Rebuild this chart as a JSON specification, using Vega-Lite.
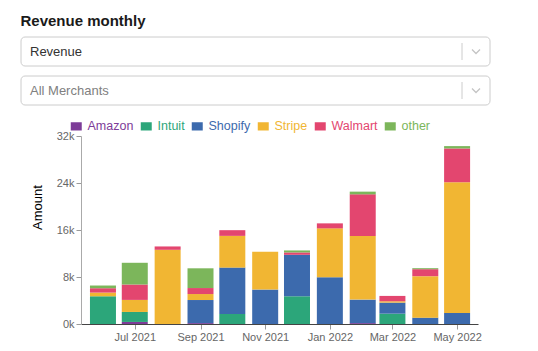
{
  "$schema": "https://vega.github.io/schema/vega-lite/v6.json",
  "padding": {"left": 20, "top": 13, "right": 5, "bottom": 5},
  "autosize": {"type": "pad"},
  "config": {
    "font": "Liberation Sans",
    "view": {"stroke": null},
    "axis": {"labelFont": "Liberation Sans", "titleFont": "Liberation Sans"}
  },
  "title": {"text": "Revenue monthly", "anchor": "start", "fontSize": 15, "fontWeight": "bold", "color": "#1a1a1a", "offset": 8, "frame": "bounds"},
  "resolve": {"scale": {"color": "independent"}, "legend": {"color": "independent"}},
  "spacing": 14,
  "vconcat": [
    {
      "spacing": 8,
      "vconcat": [
        {
          "width": 409, "height": 29,
          "data": {"values": [{"label": "Revenue"}]},
          "layer": [
            {"mark": {"type": "rect", "fill": "#ffffff", "stroke": "#cccccc", "strokeWidth": 1, "cornerRadius": 4},
             "encoding": {"x": {"datum": 0, "type": "quantitative", "scale": {"domain": [60, 469], "nice": false, "zero": false}, "axis": null},
                          "x2": {"datum": 469},
                          "y": {"datum": 0, "type": "quantitative", "scale": {"domain": [0, 29], "nice": false, "zero": false}, "axis": null},
                          "y2": {"datum": 29}}},
            {"mark": {"type": "text", "align": "left", "baseline": "middle", "fontSize": 13, "color": "#333333"},
             "encoding": {"text": {"field": "label"},
                          "x": {"datum": 9, "type": "quantitative", "scale": {"domain": [60, 469], "nice": false, "zero": false}, "axis": null}}},
            {"mark": {"type": "rule", "color": "#cccccc"},
             "encoding": {"x": {"datum": 441, "type": "quantitative", "scale": {"domain": [60, 469], "nice": false, "zero": false}, "axis": null},
                          "y": {"datum": 6, "type": "quantitative", "scale": {"domain": [0, 29], "nice": false, "zero": false}, "axis": null},
                          "y2": {"datum": 23}}},
            {"mark": {"type": "point", "shape": "M-1,-0.5L0,0.5L1,-0.5", "filled": false, "stroke": "#c4c4c4", "strokeWidth": 1.3, "size": 64, "opacity": 1},
             "encoding": {"x": {"datum": 455, "type": "quantitative", "scale": {"domain": [60, 469], "nice": false, "zero": false}, "axis": null}}}
          ]
        },
        {
          "width": 409, "height": 29,
          "data": {"values": [{"label": "All Merchants"}]},
          "layer": [
            {"mark": {"type": "rect", "fill": "#ffffff", "stroke": "#cccccc", "strokeWidth": 1, "cornerRadius": 4},
             "encoding": {"x": {"datum": 0, "type": "quantitative", "scale": {"domain": [60, 469], "nice": false, "zero": false}, "axis": null},
                          "x2": {"datum": 469},
                          "y": {"datum": 0, "type": "quantitative", "scale": {"domain": [0, 29], "nice": false, "zero": false}, "axis": null},
                          "y2": {"datum": 29}}},
            {"mark": {"type": "text", "align": "left", "baseline": "middle", "fontSize": 13, "color": "#808080"},
             "encoding": {"text": {"field": "label"},
                          "x": {"datum": 9, "type": "quantitative", "scale": {"domain": [60, 469], "nice": false, "zero": false}, "axis": null}}},
            {"mark": {"type": "rule", "color": "#cccccc"},
             "encoding": {"x": {"datum": 441, "type": "quantitative", "scale": {"domain": [60, 469], "nice": false, "zero": false}, "axis": null},
                          "y": {"datum": 6, "type": "quantitative", "scale": {"domain": [0, 29], "nice": false, "zero": false}, "axis": null},
                          "y2": {"datum": 23}}},
            {"mark": {"type": "point", "shape": "M-1,-0.5L0,0.5L1,-0.5", "filled": false, "stroke": "#c4c4c4", "strokeWidth": 1.3, "size": 64, "opacity": 1},
             "encoding": {"x": {"datum": 455, "type": "quantitative", "scale": {"domain": [60, 469], "nice": false, "zero": false}, "axis": null}}}
          ]
        }
      ]
    },
    {
      "width": 397, "height": 188,
      "data": {"values": [
        {"month": "2021-06-01", "merchant": "Intuit", "amount": 4720},
        {"month": "2021-06-01", "merchant": "Stripe", "amount": 630},
        {"month": "2021-06-01", "merchant": "Walmart", "amount": 740},
        {"month": "2021-06-01", "merchant": "other", "amount": 460},
        {"month": "2021-07-01", "merchant": "Amazon", "amount": 350},
        {"month": "2021-07-01", "merchant": "Intuit", "amount": 1700},
        {"month": "2021-07-01", "merchant": "Stripe", "amount": 2050},
        {"month": "2021-07-01", "merchant": "Walmart", "amount": 2620},
        {"month": "2021-07-01", "merchant": "other", "amount": 3700},
        {"month": "2021-08-01", "merchant": "Stripe", "amount": 12630},
        {"month": "2021-08-01", "merchant": "Walmart", "amount": 570},
        {"month": "2021-09-01", "merchant": "Amazon", "amount": 150},
        {"month": "2021-09-01", "merchant": "Shopify", "amount": 3930},
        {"month": "2021-09-01", "merchant": "Stripe", "amount": 1020},
        {"month": "2021-09-01", "merchant": "Walmart", "amount": 1020},
        {"month": "2021-09-01", "merchant": "other", "amount": 3360},
        {"month": "2021-10-01", "merchant": "Intuit", "amount": 1700},
        {"month": "2021-10-01", "merchant": "Shopify", "amount": 7900},
        {"month": "2021-10-01", "merchant": "Stripe", "amount": 5400},
        {"month": "2021-10-01", "merchant": "Walmart", "amount": 970},
        {"month": "2021-11-01", "merchant": "Shopify", "amount": 5860},
        {"month": "2021-11-01", "merchant": "Stripe", "amount": 6430},
        {"month": "2021-12-01", "merchant": "Intuit", "amount": 4720},
        {"month": "2021-12-01", "merchant": "Shopify", "amount": 7060},
        {"month": "2021-12-01", "merchant": "Walmart", "amount": 400},
        {"month": "2021-12-01", "merchant": "other", "amount": 340},
        {"month": "2022-01-01", "merchant": "Shopify", "amount": 7970},
        {"month": "2022-01-01", "merchant": "Stripe", "amount": 8310},
        {"month": "2022-01-01", "merchant": "Walmart", "amount": 850},
        {"month": "2022-02-01", "merchant": "Amazon", "amount": 150},
        {"month": "2022-02-01", "merchant": "Shopify", "amount": 4000},
        {"month": "2022-02-01", "merchant": "Stripe", "amount": 10810},
        {"month": "2022-02-01", "merchant": "Walmart", "amount": 7110},
        {"month": "2022-02-01", "merchant": "other", "amount": 460},
        {"month": "2022-03-01", "merchant": "Intuit", "amount": 1760},
        {"month": "2022-03-01", "merchant": "Shopify", "amount": 1880},
        {"month": "2022-03-01", "merchant": "Stripe", "amount": 230},
        {"month": "2022-03-01", "merchant": "Walmart", "amount": 910},
        {"month": "2022-04-01", "merchant": "Shopify", "amount": 1080},
        {"month": "2022-04-01", "merchant": "Stripe", "amount": 7060},
        {"month": "2022-04-01", "merchant": "Walmart", "amount": 1190},
        {"month": "2022-04-01", "merchant": "other", "amount": 170},
        {"month": "2022-05-01", "merchant": "Shopify", "amount": 1880},
        {"month": "2022-05-01", "merchant": "Stripe", "amount": 22250},
        {"month": "2022-05-01", "merchant": "Walmart", "amount": 5750},
        {"month": "2022-05-01", "merchant": "other", "amount": 400}
      ]},
      "mark": {"type": "bar", "width": 26},
      "encoding": {
        "x": {"field": "month", "type": "temporal",
              "scale": {"domain": [{"year": 2021, "month": 5, "date": 16}, {"year": 2022, "month": 5, "date": 16}], "nice": false},
              "axis": {"title": null, "format": "%b %Y", "tickCount": {"interval": "month", "step": 2}, "grid": false,
                       "labelFontSize": 11, "labelColor": "#666666", "domainColor": "#444444", "tickColor": "#999999",
                       "labelPadding": 2, "tickSize": 5, "labelFlush": false, "labelOverlap": false}},
        "y": {"field": "amount", "type": "quantitative", "stack": "zero",
              "scale": {"domain": [0, 32000], "nice": false},
              "axis": {"title": "Amount", "values": [0, 8000, 16000, 24000, 32000], "labelExpr": "(datum.value / 1000) + 'k'",
                       "grid": false, "labelFontSize": 11, "labelColor": "#666666", "domainColor": "#aaaaaa", "tickColor": "#999999",
                       "tickSize": 5, "labelPadding": 2,
                       "titleFontSize": 13, "titleFontWeight": "normal", "titleColor": "#000000",
                       "titleX": -37, "titleY": 71, "titleAngle": -90, "titleAlign": "center", "titleBaseline": "bottom"}},
        "color": {"field": "merchant", "type": "nominal",
                  "scale": {"domain": ["Amazon", "Intuit", "Shopify", "Stripe", "Walmart", "other"],
                            "range": ["#7d3c98", "#2ca67a", "#3c6aad", "#f1b633", "#e3466f", "#7cb65b"]},
                  "legend": {"orient": "none", "legendX": -11, "legendY": -16, "direction": "horizontal", "title": null,
                             "symbolType": "M-1,-0.75L1,-0.75L1,0.75L-1,0.75Z", "symbolSize": 121, "symbolStrokeWidth": 0,
                             "labelFontSize": 12.5, "columnPadding": 6, "labelOffset": 5,
                             "encode": {"labels": {"update": {"fill": [
                               {"test": "datum.value === 'Amazon'", "value": "#7d3c98"},
                               {"test": "datum.value === 'Intuit'", "value": "#2ca67a"},
                               {"test": "datum.value === 'Shopify'", "value": "#3c6aad"},
                               {"test": "datum.value === 'Stripe'", "value": "#f1b633"},
                               {"test": "datum.value === 'Walmart'", "value": "#e3466f"},
                               {"value": "#7cb65b"}]}}}}},
        "order": {"field": "merchant", "sort": "ascending"}
      }
    }
  ]
}
